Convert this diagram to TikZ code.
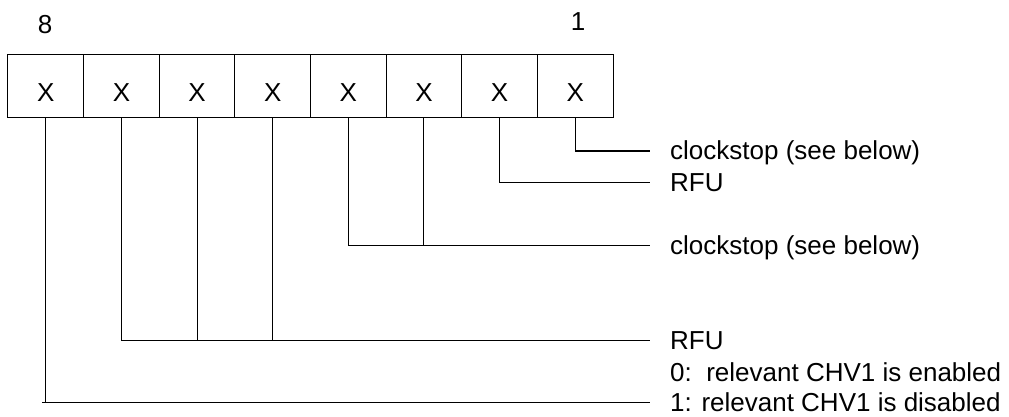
\documentclass[tikz,border=0pt]{standalone}
\usepackage{fontspec}
\setmainfont{Liberation Sans}
\begin{document}
\begin{tikzpicture}[x=1pt,y=-1pt,
  every node/.style={font=\fontsize{26}{30}\selectfont},
  cell/.style={draw,line width=1pt,minimum width=75.625pt,minimum height=63pt,inner sep=0pt,text height=30pt,text depth=0pt},
  lbl/.style={anchor=base west,inner sep=0pt},
  bitno/.style={inner sep=0pt},
  wire/.style={line width=1pt}]
\useasboundingbox (0,0) rectangle (1009,417);
% cells
\node[cell] (c8) at (45.81,86.5) {X};
\node[cell] (c7) at (121.44,86.5) {X};
\node[cell] (c6) at (197.06,86.5) {X};
\node[cell] (c5) at (272.69,86.5) {X};
\node[cell] (c4) at (348.31,86.5) {X};
\node[cell] (c3) at (423.94,86.5) {X};
\node[cell] (c2) at (499.56,86.5) {X};
\node[cell] (c1) at (575.19,86.5) {X};
% bit numbers
\node[bitno] (n8) at (45,25) {8};
\node[bitno] (n1) at (578,22) {1};
% labels
\node[lbl] (t1) at (670,160) {clockstop (see below)};
\node[lbl] (t2) at (670,191) {RFU};
\node[lbl] (t3) at (670,254.5) {clockstop (see below)};
\node[lbl] (t4) at (670,349.5) {RFU};
\node[lbl] (t5) at (670,381) {0:\ \ relevant CHV1 is enabled};
\node[lbl] (t6) at (670,411) {1: relevant CHV1 is disabled};
% line ends
\coordinate (e1) at (650,151);
\coordinate (e2) at (650,182);
\coordinate (e3) at (650,245.5);
\coordinate (e4) at (650,340.5);
\coordinate (e6) at (650,402);
\coordinate (s6) at (42,402);
% connectors
\draw[wire] (c1.south) |- (e1);
\draw[wire] (c2.south) |- (e2);
\draw[wire] (c4.south) |- (e3);
\draw[wire] (c3.south) -- (c3.south |- e3);
\draw[wire] (c7.south) |- (e4);
\draw[wire] (c6.south) -- (c6.south |- e4);
\draw[wire] (c5.south) -- (c5.south |- e4);
\draw[wire] (c8.south) -- (c8.south |- e6);
\draw[wire] (s6) -- (e6);
\end{tikzpicture}
\end{document}
